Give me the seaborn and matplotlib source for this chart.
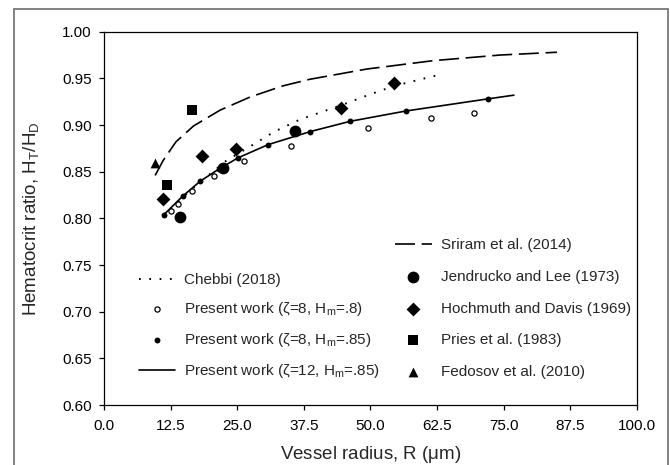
import matplotlib
matplotlib.use("Agg")
import matplotlib.pyplot as plt
import seaborn as sns
from matplotlib.patches import Rectangle

# ---------------- data ----------------
# Sriram et al. (2014) – dashed curve
sriram_x = [9.6, 11.1, 13.5, 16.8, 21.8, 27.4, 33.6, 38.6, 49.3, 61.8, 74.3, 85.0]
sriram_y = [0.846, 0.862, 0.882, 0.899, 0.916, 0.930, 0.942, 0.949, 0.960, 0.969, 0.975, 0.978]

# Chebbi (2018) – dotted curve
chebbi_x = [12.5, 16.0, 20.0, 23.0, 27.4, 32.0, 36.8, 44.4, 50.0, 54.5, 63.7]
chebbi_y = [0.810, 0.829, 0.848, 0.862, 0.877, 0.893, 0.906, 0.921, 0.933, 0.942, 0.955]

# Present work (zeta=12, Hm=.85) – solid curve
solid_x = [11.25, 14.8, 18.1, 21.6, 25.2, 30.8, 38.7, 46.2, 56.6, 72.0, 76.9]
solid_y = [0.804, 0.824, 0.840, 0.853, 0.865, 0.879, 0.893, 0.904, 0.915, 0.928, 0.932]

# Present work (zeta=8, Hm=.85) – small filled dots
dots_x = [11.25, 14.8, 18.1, 21.6, 25.2, 30.8, 38.7, 46.2, 56.6, 72.0]
dots_y = [0.804, 0.824, 0.840, 0.853, 0.865, 0.879, 0.893, 0.904, 0.915, 0.928]

# Present work (zeta=8, Hm=.8) – small open circles
open_x = [12.5, 13.8, 16.6, 20.6, 26.3, 35.0, 49.6, 61.4, 69.4]
open_y = [0.808, 0.8155, 0.829, 0.845, 0.861, 0.878, 0.897, 0.9077, 0.913]

# Jendrucko and Lee (1973)
jend_x = [14.3, 22.4, 35.8]
jend_y = [0.801, 0.854, 0.894]

# Hochmuth and Davis (1969)
hoch_x = [11.0, 18.4, 24.7, 44.4, 54.5]
hoch_y = [0.821, 0.867, 0.874, 0.918, 0.945]

# Pries et al. (1983)
pries_x = [11.8, 16.6]
pries_y = [0.836, 0.916]

# Fedosov et al. (2010)
fed_x = [9.6]
fed_y = [0.859]

x_ticks = [0.0, 12.5, 25.0, 37.5, 50.0, 62.5, 75.0, 87.5, 100.0]
y_ticks = [0.60, 0.65, 0.70, 0.75, 0.80, 0.85, 0.90, 0.95, 1.00]

lab_sriram = "Sriram et al. (2014)"
lab_chebbi = "Chebbi (2018)"
lab_open = r"Present work ($\zeta$=8, H$_{m}$=.8)"
lab_dots = r"Present work ($\zeta$=8, H$_{m}$=.85)"
lab_solid = r"Present work ($\zeta$=12, H$_{m}$=.85)"
lab_jend = "Jendrucko and Lee (1973)"
lab_hoch = "Hochmuth and Davis (1969)"
lab_pries = "Pries et al. (1983)"
lab_fed = "Fedosov et al. (2010)"

# ---------------- style ----------------
sns.set_style("ticks")
plt.rcParams["font.family"] = ["Liberation Sans", "DejaVu Sans"]
plt.rcParams["mathtext.default"] = "regular"
plt.rcParams["mathtext.fontset"] = "custom"
plt.rcParams["mathtext.rm"] = "Liberation Sans"
plt.rcParams["mathtext.it"] = "Liberation Sans"

fig = plt.figure(figsize=(6.7, 4.65), dpi=100)
ax = fig.add_axes([0.1552, 0.129, 0.7955, 0.8028])

# lines
sns.lineplot(x=sriram_x, y=sriram_y, ax=ax, color="black", lw=1.2,
             linestyle=(0, (12, 4)), label=lab_sriram, sort=False)
sns.lineplot(x=chebbi_x, y=chebbi_y, ax=ax, color="black", lw=1.4,
             linestyle=(0, (0.9, 4.4)), label=lab_chebbi, sort=False)
sns.lineplot(x=solid_x, y=solid_y, ax=ax, color="black", lw=1.2,
             linestyle="-", label=lab_solid, sort=False)

# markers
sns.scatterplot(x=open_x, y=open_y, ax=ax, marker="o", s=14, color="white",
                edgecolor="black", linewidth=0.9, label=lab_open, zorder=3)
sns.scatterplot(x=dots_x, y=dots_y, ax=ax, marker="o", s=18, color="black",
                edgecolor="black", linewidth=0, label=lab_dots, zorder=3)
sns.scatterplot(x=jend_x, y=jend_y, ax=ax, marker="o", s=72, color="black",
                edgecolor="black", linewidth=0, label=lab_jend, zorder=4)
sns.scatterplot(x=hoch_x, y=hoch_y, ax=ax, marker="D", s=50, color="black",
                edgecolor="black", linewidth=0, label=lab_hoch, zorder=4)
sns.scatterplot(x=pries_x, y=pries_y, ax=ax, marker="s", s=42, color="black",
                edgecolor="black", linewidth=0, label=lab_pries, zorder=4)
sns.scatterplot(x=fed_x, y=fed_y, ax=ax, marker="^", s=50, color="black",
                edgecolor="black", linewidth=0, label=lab_fed, zorder=4)

ax.set_xlim(0, 100)
ax.set_ylim(0.60, 1.00)
ax.set_xticks(x_ticks)
ax.set_xticklabels([f"{v:.1f}" for v in x_ticks])
ax.set_yticks(y_ticks)
ax.set_yticklabels([f"{v:.2f}" for v in y_ticks])
ax.tick_params(axis="both", direction="out", length=3.8, width=0.9,
               labelsize=11, colors="black")
ax.tick_params(axis="x", pad=6)
ax.tick_params(axis="y", pad=5)
for sp in ax.spines.values():
    sp.set_visible(True)
    sp.set_color("black")
    sp.set_linewidth(0.9)

ax.set_xlabel(r"Vessel radius, R ($\mu$m)", fontsize=13.5, labelpad=8)
ax.set_ylabel(r"Hematocrit ratio, H$_{T}$/H$_{D}$", fontsize=13.5, labelpad=15)

# legends
h, l = ax.get_legend_handles_labels()
hmap = dict(zip(l, h))
if ax.get_legend() is not None:
    ax.get_legend().remove()

left_labels = [lab_chebbi, lab_open, lab_dots, lab_solid]
right_labels = [lab_sriram, lab_jend, lab_hoch, lab_pries, lab_fed]

leg1 = ax.legend([hmap[k] for k in left_labels], left_labels, loc="upper left",
                 bbox_to_anchor=(0.065, 0.354), frameon=False, fontsize=11,
                 handlelength=2.4, handletextpad=0.6, labelspacing=0.86,
                 borderpad=0, borderaxespad=0)
ax.add_artist(leg1)
leg2 = ax.legend([hmap[k] for k in right_labels], right_labels, loc="upper left",
                 bbox_to_anchor=(0.546, 0.447), frameon=False, fontsize=11,
                 handlelength=2.4, handletextpad=0.6, labelspacing=1.16,
                 borderpad=0, borderaxespad=0)

# outer frame of the figure panel
fig.patches.append(Rectangle((14 / 670, -0.05), (668 - 14) / 670, 1.05 - 9 / 465,
                             transform=fig.transFigure, fill=False,
                             edgecolor="#777777", linewidth=1.3))

fig.savefig("out.png", dpi=100)
